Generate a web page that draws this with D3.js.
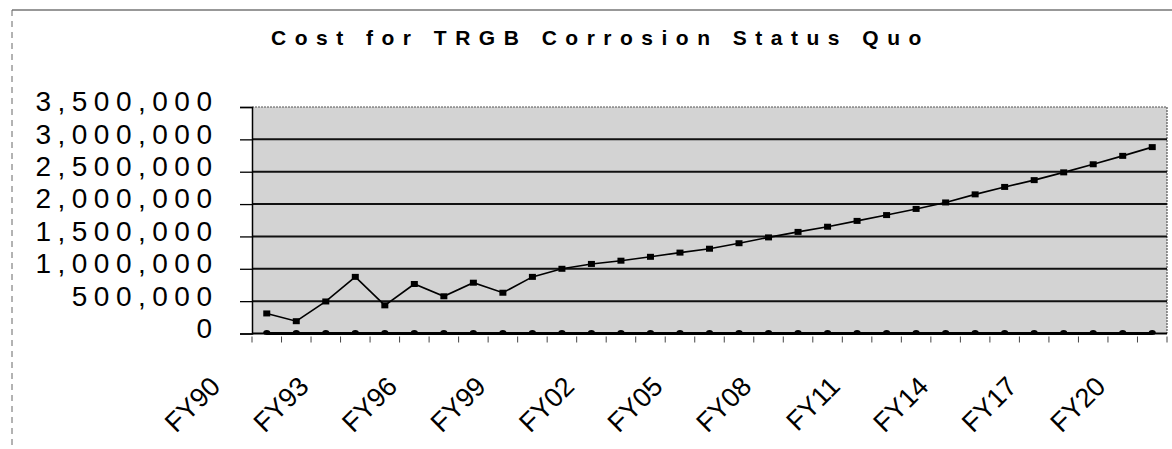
<!DOCTYPE html>
<html><head><meta charset="utf-8">
<script src="https://cdn.jsdelivr.net/npm/d3@7"></script>
<style>
body{margin:0;background:#fff;}
svg{display:block;font-family:"Liberation Sans",Arial,sans-serif;}
</style>
</head><body>
<svg id="c" width="1172" height="449"></svg>
<script>
const chartTitle = "Cost for TRGB Corrosion Status Quo";
const years = ["FY90","FY91","FY92","FY93","FY94","FY95","FY96","FY97","FY98","FY99",
  "FY00","FY01","FY02","FY03","FY04","FY05","FY06","FY07","FY08","FY09",
  "FY10","FY11","FY12","FY13","FY14","FY15","FY16","FY17","FY18","FY19","FY20"];
const statusQuoCost = [310000,190000,495000,875000,435000,765000,575000,785000,630000,875000,
  1000000,1075000,1125000,1185000,1250000,1310000,1395000,1485000,1570000,1650000,
  1740000,1830000,1925000,2025000,2150000,2265000,2370000,2490000,2615000,2745000,2880000];
const baselineCost = [0,0,0,0,0,0,0,0,0,0,0,0,0,0,0,0,0,0,0,0,0,0,0,0,0,0,0,0,0,0,0];
const yTickValues = [0,500000,1000000,1500000,2000000,2500000,3000000,3500000];
const xTickLabels = ["FY90","FY93","FY96","FY99","FY02","FY05","FY08","FY11","FY14","FY17","FY20"];

const svg = d3.select("#c");
const L = 252, R = 1167, T = 107, B = 333.5;
const x = d3.scaleBand().domain(years).range([L, R]);
const y = d3.scaleLinear().domain([0, 3500000]).range([B, T]);

// outer frame
svg.append("line").attr("x1",12).attr("x2",1172).attr("y1",10).attr("y2",10)
  .attr("stroke","#333").attr("stroke-width",1.2);
svg.append("line").attr("x1",12).attr("x2",12).attr("y1",10).attr("y2",449)
  .attr("stroke","#666").attr("stroke-width",1).attr("stroke-dasharray","6,5");

// title
svg.append("text").attr("x",271).attr("y",45)
  .attr("font-size",21).attr("font-weight","bold").style("letter-spacing","8.5px")
  .attr("fill","#000").text(chartTitle);

// plot background
svg.append("rect").attr("x",L).attr("y",T).attr("width",R-L).attr("height",B-T)
  .attr("fill","#d3d3d3");
// top & right border dotted
svg.append("path").attr("d",`M${L},${T}H${R}V${B}`).attr("fill","none")
  .attr("stroke","#555").attr("stroke-width",1.2).attr("stroke-dasharray","2,1");

// gridlines
svg.append("g").selectAll("line").data(yTickValues.filter(d=>d>0 && d<3500000)).join("line")
  .attr("x1",L).attr("x2",R).attr("y1",d=>y(d)).attr("y2",d=>y(d))
  .attr("stroke","#111").attr("stroke-width",2);

// y axis
const yAxis = d3.axisLeft(y).tickValues(yTickValues).tickSize(12).tickPadding(21.5)
  .tickFormat(d3.format(","));
const gy = svg.append("g").attr("transform",`translate(${L},0)`).call(yAxis);
gy.select(".domain").attr("stroke","#000").attr("stroke-width",1.5);
gy.selectAll(".tick line").attr("stroke","#000").attr("stroke-width",1.3);
gy.selectAll(".tick text").attr("font-size",28).attr("fill","#000")
  .attr("font-family","'Liberation Sans',Arial,sans-serif")
  .style("letter-spacing","6.5px").attr("dy","0.14em");

// x axis line and boundary ticks
svg.append("line").attr("x1",L).attr("x2",R).attr("y1",B).attr("y2",B)
  .attr("stroke","#000").attr("stroke-width",2);
const bounds = years.map(d=>x(d)).concat([R]);
svg.append("g").selectAll("line").data(bounds).join("line")
  .attr("x1",d=>d).attr("x2",d=>d).attr("y1",B+3).attr("y2",B+9)
  .attr("stroke","#444").attr("stroke-width",1);

// x labels
svg.append("g").selectAll("text").data(xTickLabels).join("text")
  .attr("transform",d=>`translate(${x(d)+x.bandwidth()/2-45},388) rotate(-45)`)
  .attr("text-anchor","end").attr("font-size",27).attr("fill","#000").text(d=>d);

const cx = d => x(d) + x.bandwidth()/2;

// baseline series
const base = years.map((d,i)=>({k:d,v:baselineCost[i]}));
svg.append("path").datum(base)
  .attr("d",d3.line().x(d=>cx(d.k)).y(d=>y(d.v)))
  .attr("fill","none").attr("stroke","#000").attr("stroke-width",3);
svg.append("g").selectAll("ellipse").data(base).join("ellipse")
  .attr("cx",d=>cx(d.k)).attr("cy",d=>y(d.v)-1).attr("rx",3.5).attr("ry",2.5).attr("fill","#000");

// status quo series
const sq = years.map((d,i)=>({k:d,v:statusQuoCost[i]}));
svg.append("path").datum(sq)
  .attr("d",d3.line().x(d=>cx(d.k)).y(d=>y(d.v)))
  .attr("fill","none").attr("stroke","#000").attr("stroke-width",1.6);
svg.append("g").selectAll("rect").data(sq).join("rect")
  .attr("x",d=>cx(d.k)-3.5).attr("y",d=>y(d.v)-3).attr("width",7).attr("height",6)
  .attr("fill","#000");
</script>
</body></html>
